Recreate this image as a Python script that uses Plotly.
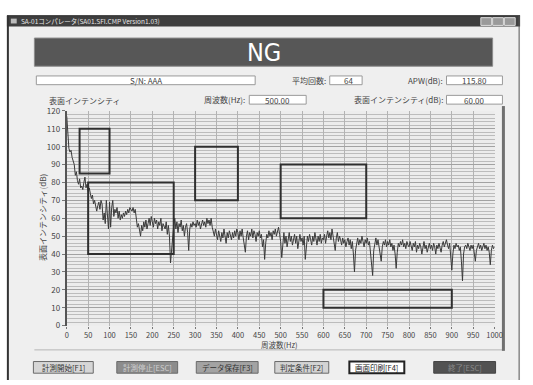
import plotly.graph_objects as go

W, H = 533, 385

# ---------------- data ----------------
freq_step = 2.5
intensity = [
    117, 106, 99, 97, 98, 94, 92, 90, 84, 86, 81, 79, 82, 77, 78, 76, 80, 83, 77, 79,
    75, 77, 74, 71, 73, 68, 70, 66, 64, 67, 69, 65, 70, 68, 59, 63, 57, 70, 62, 54,
    69, 55, 66, 70, 61, 65, 63, 66, 60, 64, 59, 62, 60, 63, 61, 64, 62, 65, 63, 66,
    65, 64, 66, 63, 65, 60, 55, 57, 52, 50, 56, 53, 58, 55, 59, 54, 57, 60, 56, 61,
    58, 55, 60, 57, 59, 54, 58, 56, 60, 53, 57, 55, 54, 58, 51, 56, 50, 35, 44, 52,
    56, 60, 54, 58, 52, 57, 55, 59, 53, 56, 50, 55, 57, 52, 42, 54, 57, 55, 58, 56,
    57, 55, 59, 56, 58, 54, 57, 59, 56, 58, 55, 60, 57, 59, 56, 60, 55, 52, 50, 54,
    51, 48, 53, 50, 47, 52, 49, 54, 50, 46, 52, 49, 53, 51, 48, 52, 49, 53, 50, 54,
    52, 48, 53, 50, 54, 49, 45, 41, 50, 53, 48, 52, 50, 54, 49, 53, 51, 47, 52, 50,
    53, 49, 51, 44, 48, 37, 46, 51, 49, 53, 50, 52, 48, 53, 51, 54, 50, 52, 55, 51,
    47, 38, 48, 52, 46, 50, 44, 49, 52, 47, 50, 45, 49, 51, 46, 50, 43, 48, 51, 47,
    49, 45, 50, 37, 46, 50, 47, 51, 48, 45, 50, 47, 52, 48, 45, 50, 47, 51, 46, 49,
    48, 51, 46, 50, 53, 49, 52, 48, 54, 50, 46, 42, 49, 52, 47, 50, 48, 45, 49, 46,
    48, 44, 47, 49, 45, 48, 43, 47, 40, 30, 42, 47, 49, 45, 48, 46, 50, 47, 44, 48,
    46, 49, 45, 47, 40, 35, 28, 42, 47, 49, 45, 48, 44, 40, 36, 44, 47, 45, 48, 44,
    47, 45, 48, 44, 46, 42, 45, 40, 32, 41, 46, 44, 47, 45, 48, 44, 46, 43, 47, 45,
    44, 47, 45, 42, 46, 44, 47, 41, 45, 43, 46, 44, 40, 45, 47, 43, 45, 41, 44, 46,
    43, 45, 42, 46, 44, 40, 45, 43, 46, 44, 41, 45, 47, 44, 46, 48, 45, 43, 46, 38,
    31, 40, 45, 43, 46, 44, 45, 42, 44, 36, 25, 40, 44, 45, 43, 46, 44, 42, 45, 43,
    45, 41, 36, 42, 44, 46, 43, 45, 42, 44, 46, 43, 45, 42, 44, 41, 34, 42, 45, 43,
    44,
]
freq = [i * freq_step for i in range(len(intensity))]

# limit boxes (Hz, dB)
box_x0 = [30, 50, 300, 500, 600]
box_x1 = [100, 250, 400, 700, 900]
box_y0 = [85, 40, 70, 60, 10]
box_y1 = [110, 80, 100, 90, 20]

x_ticks = list(range(0, 1001, 50))
y_ticks = list(range(0, 121, 10))

title_text = "SA-01コンパレータ(SA01.SFI.CMP Version1.03)"
result_text = "NG"
serial_text = "S/N: AAA"
avg_label, avg_value = "平均回数:", "64"
apw_label, apw_value = "APW(dB):", "115.80"
freq_label, freq_value = "周波数(Hz):", "500.00"
si_label, si_value = "表面インテンシティ(dB):", "60.00"
chart_title = "表面インテンシティ"
x_title = "周波数(Hz)"
y_title = "表面インテンシティ(dB)"
button_labels = ["計測開始[F1]", "計測停止[ESC]", "データ保存[F3]", "判定条件[F2]", "画面印刷[F4]", "終了[ESC]"]

# ---------------- helpers ----------------
FONT = "Noto Sans CJK JP, Noto Sans, sans-serif"


def px(x):
    return x / W


def py(y):
    return 1 - y / H


shapes = []
annotations = []


def rect(x0, y0, x1, y1, fill, line_color=None, lw=0, layer="below"):
    shapes.append(dict(
        type="rect", xref="paper", yref="paper",
        x0=px(x0), x1=px(x1), y0=py(y1), y1=py(y0),
        fillcolor=fill, line=dict(color=line_color or fill, width=lw), layer=layer,
    ))


def line(x0, y0, x1, y1, color, lw=1, layer="below"):
    shapes.append(dict(
        type="line", xref="paper", yref="paper",
        x0=px(x0), x1=px(x1), y0=py(y0), y1=py(y1),
        line=dict(color=color, width=lw), layer=layer,
    ))


def text(x, y, s, size=8, color="#333333", xanchor="center", family=FONT, angle=0):
    annotations.append(dict(
        x=px(x), y=py(y), xref="paper", yref="paper", text=s, showarrow=False,
        xanchor=xanchor, yanchor="middle", textangle=angle,
        font=dict(size=size, color=color, family=family),
    ))


def field(x0, y0, x1, y1, s, xanchor="center"):
    rect(x0, y0, x1, y1, "#ffffff", "#9a9a9a", 1)
    if xanchor == "center":
        text((x0 + x1) / 2, (y0 + y1) / 2 + 0.5, s, 8, "#444444")
    else:
        text(x0 + 12, (y0 + y1) / 2 + 0.5, s, 8, "#444444", xanchor="left")


# ---------------- window chrome ----------------
rect(0, 0, W, H, "#ffffff")
rect(5, 10, 528, H, "#efefef")
rect(5, 10, 528, 21, "#3f3f3f")
line(5, 10, 528, 10, "#2a2a2a", 1)
line(6, 10, 6, H, "#333333", 2)
line(527, 10, 527, H, "#555555", 1)
rect(9, 13, 15, 18, "#bbbbbb")
text(17, 15.5, title_text, 6.5, "#e8e8e8", xanchor="left")
for bx in (488, 500, 512):
    rect(bx, 12, bx + 11, 20, "#9a9a9a", "#dddddd", 1)

# NG banner
rect(33, 33, 500, 62, "#575757", "#8c8c8c", 1)
text(266.5, 48, result_text, 25, "#ffffff", family="Liberation Sans Narrow, DejaVu Sans Condensed, sans-serif")

# info fields
field(35, 72, 258, 81, serial_text)
text(332, 76.5, avg_label, 8, "#444444", xanchor="right")
field(334, 72, 367, 81, avg_value, xanchor="left")
text(451, 76.5, apw_label, 8, "#444444", xanchor="right")
field(453, 72, 510, 81, apw_value)
text(250, 96, freq_label, 8, "#444444", xanchor="right")
field(252, 92, 310, 101, freq_value)
text(451, 96, si_label, 8, "#444444", xanchor="right")
field(453, 92, 510, 101, si_value)
text(46, 97, chart_title, 8, "#444444", xanchor="left")

# chart panel frame
line(33, 354, 511, 354, "#b5b5b5", 1)
line(511, 103, 511, 355, "#707070", 3)

# plot background
rect(66, 108, 502, 329, "#ececec")

# axis titles
text(283, 348.5, x_title, 7.5, "#444444")
text(42, 218, y_title, 8, "#444444", angle=-90)

# buttons
btn_x0 = [32, 117, 198, 278, 354, 440]
btn_x1 = [93, 179, 261, 333, 410, 503]
btn_fill = ["#d6d6d6", "#8c8c8c", "#a3a3a3", "#d3d3d3", "#ffffff", "#525252"]
btn_text = ["#333333", "#d0d0d0", "#333333", "#333333", "#222222", "#8a8a8a"]
btn_border = ["#6a6a6a", "#6a6a6a", "#6a6a6a", "#6a6a6a", "#222222", "#444444"]
btn_lw = [1, 1, 1, 1, 2, 1]
for i, lab in enumerate(button_labels):
    rect(btn_x0[i], 366, btn_x1[i], 378, btn_fill[i], btn_border[i], btn_lw[i])
    text((btn_x0[i] + btn_x1[i]) / 2, 372.5, lab, 7.5, btn_text[i])

# limit boxes in data coordinates
for i in range(len(box_x0)):
    shapes.append(dict(
        type="rect", xref="x", yref="y",
        x0=box_x0[i], x1=box_x1[i], y0=box_y0[i], y1=box_y1[i],
        line=dict(color="#2f2f2f", width=2), fillcolor="rgba(0,0,0,0)", layer="above",
    ))

# ---------------- figure ----------------
fig = go.Figure()
fig.add_trace(go.Scatter(
    x=freq, y=intensity, mode="lines",
    line=dict(color="#3a3a3a", width=1), hoverinfo="skip", showlegend=False,
))

fig.update_layout(
    width=W, height=H,
    margin=dict(l=0, r=0, t=0, b=0),
    paper_bgcolor="#ffffff",
    plot_bgcolor="rgba(0,0,0,0)",
    showlegend=False,
    shapes=shapes,
    annotations=annotations,
    xaxis=dict(
        domain=[px(66), px(502)], range=[0, 1000],
        tickvals=x_ticks, ticktext=[str(v) for v in x_ticks],
        showgrid=True, gridcolor="#b3b3b3", gridwidth=1,
        zeroline=False, showline=False,
        ticks="outside", ticklen=2, tickcolor="#777777",
        tickfont=dict(size=7.5, color="#444444", family=FONT),
        fixedrange=True,
    ),
    yaxis=dict(
        domain=[py(329), py(108)], range=[0, 120],
        tickvals=y_ticks, ticktext=[str(v) for v in y_ticks],
        showgrid=True, gridcolor="#a2a2a2", gridwidth=1,
        minor=dict(dtick=2, showgrid=True, gridcolor="#bcbcbc", gridwidth=1),
        zeroline=False, showline=True, linecolor="#555555", linewidth=2,
        ticks="outside", ticklen=3, tickcolor="#777777",
        tickfont=dict(size=8, color="#444444", family=FONT),
        fixedrange=True,
    ),
)

fig.write_html(
    "out.html",
    config={"displayModeBar": False},
    post_script="document.body.style.margin='0px';document.body.style.overflow='hidden';",
)
